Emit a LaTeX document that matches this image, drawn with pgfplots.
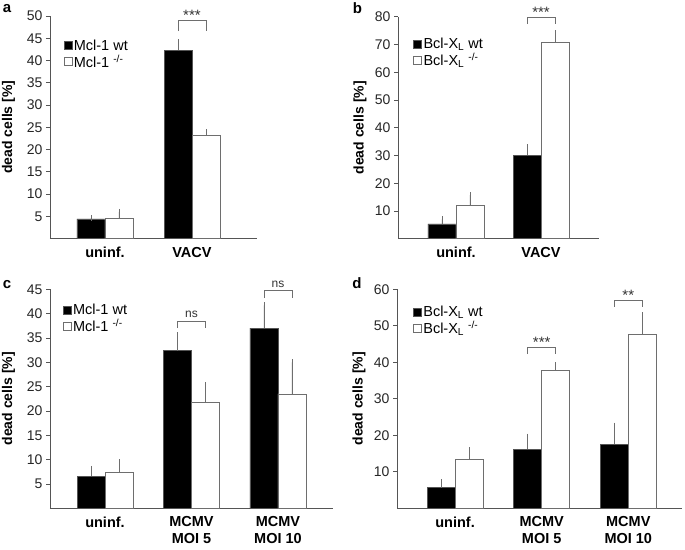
\documentclass[border=0pt]{standalone}
\usepackage{fontspec}
\setmainfont{Liberation Sans}
\usepackage{pgfplots}
\pgfplotsset{compat=1.18}

\definecolor{axgray}{RGB}{85,85,85}
\definecolor{bargray}{RGB}{110,110,110}

\newcommand\lgf{\fontsize{14.5}{16}\selectfont}

\tikzset{
  brk/.style={draw=bargray, line width=0.8pt},
  stars/.style={font=\fontsize{15}{15}\selectfont, text=black!80, anchor=base, inner sep=0pt},
  nsl/.style={font=\fontsize{12}{12}\selectfont, text=black!80, anchor=base, inner sep=0pt},
}

\pgfplotsset{
  panel/.style={
    scale only axis,
    ybar=0pt, bar width=28pt,
    axis lines*=left,
    axis line style={axgray, line width=0.9pt},
    ymin=0,
    major x tick style={draw=none},
    y tick style={axgray, line width=0.8pt},
    tick align=outside, major tick length=4pt,
    /pgf/number format/assume math mode=true,
    yticklabel style={font=\fontsize{14}{16}\selectfont, color=black!85},
    xticklabel style={font=\fontsize{14.5}{16.7}\selectfont\bfseries, align=center, yshift=-1pt},
    ylabel={dead cells [\%]},
    ylabel style={font=\fontsize{14}{16}\selectfont\bfseries, anchor=center},
    legend style={draw=none, fill=none, anchor=north west, row sep=0pt,
      nodes={inner sep=1.5pt}},
    legend cell align=left,
    clip=false,
    enlarge x limits=false,
  },
  sq/.style={
    error bars/y dir=plus, error bars/y explicit,
    error bars/error bar style={bargray, line width=0.8pt},
    error bars/error mark options={bargray, line width=0.8pt, mark size=3pt},
    legend image code/.code={\draw[##1] (-2pt,-4pt) rectangle (6pt,4pt);},
  },
  wt/.style={sq, fill=black, draw=axgray, line width=0.8pt},
  ko/.style={sq, fill=white, draw=bargray, line width=0.8pt},
}

\begin{document}
\begin{tikzpicture}
\useasboundingbox (0,0) rectangle (685pt,-549pt);

% ---- a
\node[font=\fontsize{15}{15}\selectfont\bfseries] at (7pt,-8.5pt) {a};
\begin{axis}[panel, at={(50pt,-238.5pt)}, anchor=south west,
    width=207pt, height=222.5pt,
    xmin=-0.632, xmax=1.747, ymax=50,
    ytick={5,10,...,50},
    xtick={0,1}, xticklabels={uninf., VACV},
    ylabel style={at={(axis description cs:-0.2,0.5)}},
    legend style={at={(axis description cs:0.05,0.91)}}]
\addplot[wt] table[x=x, y=y, y error=e] {
x y e
0 4.4 0.2
1 42.3 1.8
};
\addlegendentry{\lgf Mcl-1 wt}
\addplot[ko] table[x=x, y=y, y error=e] {
x y e
0 4.5 1.5
1 23.2 0.7
};
\addlegendentry{\lgf Mcl-1 \textsuperscript{-/-}}
\draw[brk] (axis cs:0.839,46.6) -- (axis cs:0.839,49.0) -- (axis cs:1.161,49.0) -- (axis cs:1.161,46.6);
\node[stars] at (axis cs:1,48.9) {***};
\end{axis}

% ---- b
\node[font=\fontsize{15}{15}\selectfont\bfseries] at (357.5pt,-8pt) {b};
\begin{axis}[panel, at={(398pt,-238.7pt)}, anchor=south west,
    width=201pt, height=222pt,
    xmin=-0.682, xmax=1.682, ymax=80,
    ytick={10,20,...,80},
    xtick={0,1}, xticklabels={uninf., VACV},
    ylabel style={at={(axis description cs:-0.189,0.5)}},
    legend style={at={(axis description cs:0.06,0.92)}}]
\addplot[wt] table[x=x, y=y, y error=e] {
x y e
0 5.3 1.7
1 30.0 2.9
};
\addlegendentry{\lgf Bcl-X\textsubscript{L} wt}
\addplot[ko] table[x=x, y=y, y error=e] {
x y e
0 12.1 3.6
1 70.7 3.3
};
\addlegendentry{\lgf Bcl-X\textsubscript{L} \textsuperscript{-/-}}
\draw[brk] (axis cs:0.835,77.3) -- (axis cs:0.835,79.8) -- (axis cs:1.165,79.8) -- (axis cs:1.165,77.3);
\node[stars] at (axis cs:1,79.6) {***};
\end{axis}

% ---- c
\node[font=\fontsize{15}{15}\selectfont\bfseries] at (7pt,-285pt) {c};
\begin{axis}[panel, at={(50pt,-508.3pt)}, anchor=south west,
    width=283pt, height=219pt,
    xmin=-0.636, xmax=2.636, ymax=45,
    ytick={5,10,...,45},
    xtick={0,1,2}, xticklabels={uninf., {MCMV\\MOI 5}, {MCMV\\MOI 10}},
    ylabel style={at={(axis description cs:-0.147,0.5)}},
    legend style={at={(axis description cs:0.034,0.95)}}]
\addplot[wt] table[x=x, y=y, y error=e] {
x y e
0 6.6 1.5
1 32.4 3.2
2 37.0 4.7
};
\addlegendentry{\lgf Mcl-1 wt}
\addplot[ko] table[x=x, y=y, y error=e] {
x y e
0 7.4 2.1
1 21.7 3.6
2 23.5 6.5
};
\addlegendentry{\lgf Mcl-1 \textsuperscript{-/-}}
\draw[brk] (axis cs:0.838,37.0) -- (axis cs:0.838,38.5) -- (axis cs:1.162,38.5) -- (axis cs:1.162,37.0);
\node[nsl, yshift=3pt] at (axis cs:1,38.5) {ns};
\draw[brk] (axis cs:1.838,43.2) -- (axis cs:1.838,44.7) -- (axis cs:2.162,44.7) -- (axis cs:2.162,43.2);
\node[nsl, yshift=3pt] at (axis cs:2,44.7) {ns};
\end{axis}

% ---- d
\node[font=\fontsize{15}{15}\selectfont\bfseries] at (357pt,-283pt) {d};
\begin{axis}[panel, at={(397pt,-508.2pt)}, anchor=south west,
    width=285pt, height=219pt,
    xmin=-0.67, xmax=2.62, ymax=60,
    ytick={10,20,...,60},
    xtick={0,1,2}, xticklabels={uninf., {MCMV\\MOI 5}, {MCMV\\MOI 10}},
    ylabel style={at={(axis description cs:-0.133,0.5)}},
    legend style={at={(axis description cs:0.045,0.94)}}]
\addplot[wt] table[x=x, y=y, y error=e] {
x y e
0 5.6 1.5
1 16.2 3.4
2 17.5 5.1
};
\addlegendentry{\lgf Bcl-X\textsubscript{L} wt}
\addplot[ko] table[x=x, y=y, y error=e] {
x y e
0 13.4 2.5
1 37.7 1.5
2 47.5 5.4
};
\addlegendentry{\lgf Bcl-X\textsubscript{L} \textsuperscript{-/-}}
\draw[brk] (axis cs:0.838,42.2) -- (axis cs:0.838,44.1) -- (axis cs:1.162,44.1) -- (axis cs:1.162,42.2);
\node[stars] at (axis cs:1,44.0) {***};
\draw[brk] (axis cs:1.838,55.2) -- (axis cs:1.838,57.0) -- (axis cs:2.162,57.0) -- (axis cs:2.162,55.2);
\node[stars] at (axis cs:2,56.9) {**};
\end{axis}
\end{tikzpicture}
\end{document}
